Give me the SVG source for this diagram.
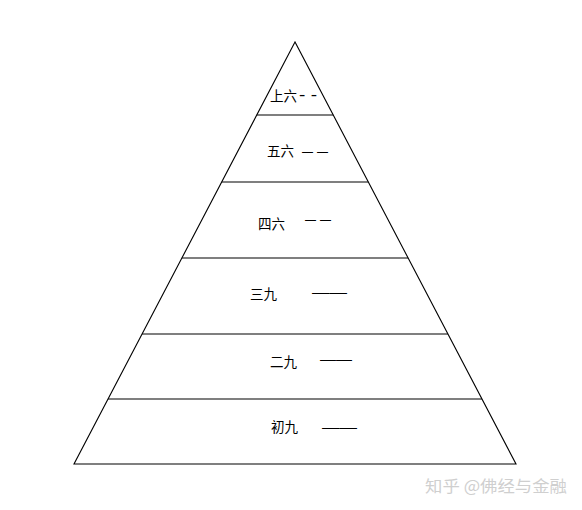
<svg xmlns="http://www.w3.org/2000/svg" width="582" height="510" viewBox="0 0 582 510">
<style>
.ln{stroke:#000;stroke-width:1.1;fill:none}
.t{font-family:"Noto Sans CJK SC","Liberation Sans",sans-serif;font-size:13.5px;fill:#000}
.d{font-family:"Liberation Sans",sans-serif;font-size:13px;fill:#000}
.h{font-family:"Liberation Sans",sans-serif;font-size:17px;fill:#000}
.wm{font-family:"Noto Sans CJK SC","Liberation Sans",sans-serif;font-size:16px;fill:#cfcfcf}
</style>
<rect width="582" height="510" fill="#fff"/>
<g id="connectors">
<polygon class="ln" points="295,42 74,464 516,464"/>
<line class="ln" x1="256.8" y1="115" x2="333.2" y2="115"/>
<line class="ln" x1="221.7" y1="182" x2="368.3" y2="182"/>
<line class="ln" x1="181.9" y1="258" x2="408.1" y2="258"/>
<line class="ln" x1="142.1" y1="334" x2="447.9" y2="334"/>
<line class="ln" x1="108.1" y1="399" x2="481.9" y2="399"/>
</g>
<g id="n6">
<text class="t" x="270" y="101">上六</text>
<text class="h" x="299" y="100" textLength="18" lengthAdjust="spacingAndGlyphs">- -</text>
</g>
<g id="n5">
<text class="t" x="267" y="156">五六</text>
<text class="d" x="302" y="156" textLength="27" lengthAdjust="spacing"><tspan textLength="11" lengthAdjust="spacingAndGlyphs">—</tspan><tspan x="317" textLength="11" lengthAdjust="spacingAndGlyphs">—</tspan></text>
</g>
<g id="n4">
<text class="t" x="258" y="229">四六</text>
<text class="d" x="305" y="224"><tspan textLength="11" lengthAdjust="spacingAndGlyphs">—</tspan><tspan x="320" textLength="11" lengthAdjust="spacingAndGlyphs">—</tspan></text>
</g>
<g id="n3">
<text class="t" x="250" y="299">三九</text>
<text class="d" x="312" y="297" textLength="35" lengthAdjust="spacingAndGlyphs">——</text>
</g>
<g id="n2">
<text class="t" x="270" y="367">二九</text>
<text class="d" x="320" y="364" textLength="32" lengthAdjust="spacingAndGlyphs">——</text>
</g>
<g id="n1">
<text class="t" x="271" y="432">初九</text>
<text class="d" x="322" y="432" textLength="35" lengthAdjust="spacingAndGlyphs">——</text>
</g>
<text class="wm" x="425" y="492" textLength="142" lengthAdjust="spacingAndGlyphs">知乎 @佛经与金融</text>
</svg>
